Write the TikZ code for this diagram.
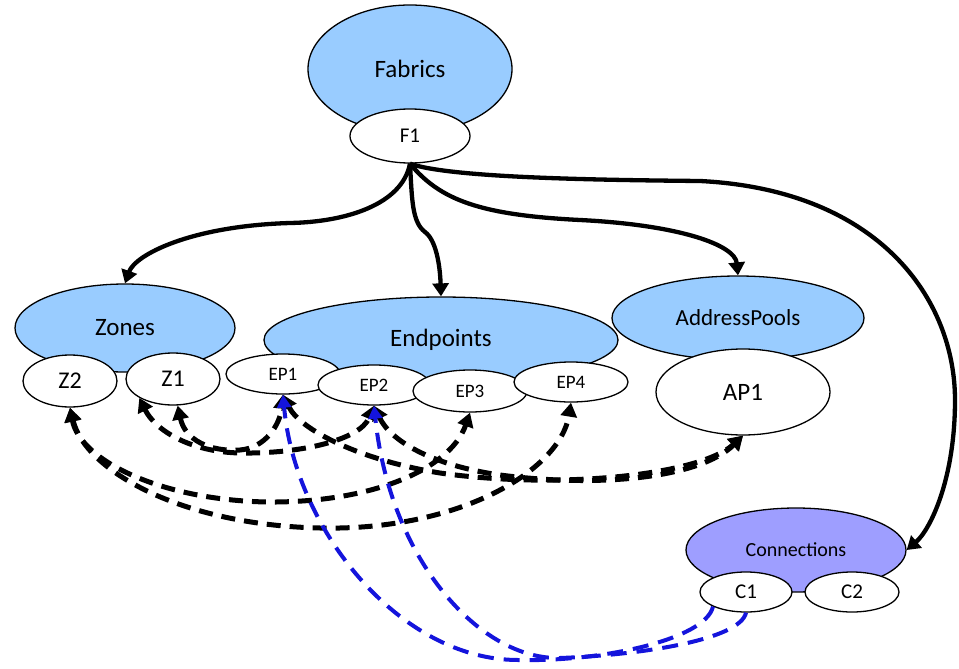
\documentclass[tikz,border=0pt]{standalone}
\usepackage{fontspec}
\setmainfont{Carlito}
\usetikzlibrary{shapes.geometric,arrows.meta}
\definecolor{pblue}{RGB}{153,204,255}
\definecolor{cpurple}{RGB}{158,158,255}
\definecolor{lblue}{RGB}{20,20,220}
\newcommand\myfs[1]{\fontsize{#1}{#1}\selectfont}
\begin{document}
\begin{tikzpicture}[x=1pt,y=-1pt,
  parent/.style={ellipse, draw=black, line width=1.3pt, fill=pblue, inner sep=0pt},
  child/.style={ellipse, draw=black, line width=1.3pt, fill=white, inner sep=0pt},
  solidarrow/.style={line width=4.3pt, arrows={-Triangle[length=13pt,width=16pt]}},
  dasharrow/.style={line width=5pt, dash pattern=on 14pt off 9pt,
     arrows={Triangle[length=14pt,width=16pt]-Triangle[length=14pt,width=16pt]}},
  bluearrow/.style={draw=lblue, line width=4pt, dash pattern=on 16pt off 10pt,
     arrows={-Triangle[length=13pt,width=14pt]}}]
\useasboundingbox (0,0) rectangle (959,669);
% parents and children
\node[parent, minimum width=204pt, minimum height=128pt, font=\myfs{25}] (Fabrics) at (410,69) {Fabrics};
\node[child, minimum width=120pt, minimum height=54pt, font=\myfs{21}] (F1) at (410,136) {F1};
\node[parent, minimum width=220pt, minimum height=88pt, font=\myfs{25}] (Zones) at (125,328) {Zones};
\node[child, minimum width=94pt, minimum height=52pt, font=\myfs{24}] (Z2) at (70,381) {Z2};
\node[child, minimum width=94pt, minimum height=52pt, font=\myfs{24}] (Z1) at (173,379) {Z1};
\node[parent, minimum width=354pt, minimum height=86pt, font=\myfs{25}] (Endpoints) at (441,340) {Endpoints};
\node[child, minimum width=114pt, minimum height=40pt, font=\myfs{19}] (EP1) at (283,374) {EP1};
\node[child, minimum width=112pt, minimum height=40pt, font=\myfs{19}] (EP2) at (374,385) {EP2};
\node[child, minimum width=114pt, minimum height=42pt, font=\myfs{19}] (EP3) at (470,391) {EP3};
\node[child, minimum width=114pt, minimum height=40pt, font=\myfs{19}] (EP4) at (571,382) {EP4};
\node[parent, minimum width=252pt, minimum height=84pt, font=\myfs{23}] (AddressPools) at (738,318) {AddressPools};
\node[child, minimum width=174pt, minimum height=86pt, font=\myfs{25}] (AP1) at (743,392) {AP1};
\node[parent, fill=cpurple, minimum width=220pt, minimum height=84pt, font=\myfs{20}] (Connections) at (796,550) {Connections};
\node[child, minimum width=92pt, minimum height=40pt, font=\myfs{21}] (C1) at (746,592) {C1};
\node[child, minimum width=94pt, minimum height=40pt, font=\myfs{21}] (C2) at (852,592) {C2};
% solid connectors from F1
\draw[solidarrow] (F1.south) .. controls (402,205) and (345,222) .. (290,223) .. controls (190,226) and (135,255) .. (Zones.north);
\draw[solidarrow] (F1.south) .. controls (412,200) and (412,222) .. (425,232) .. controls (436,240) and (440,265) .. (Endpoints.north);
\draw[solidarrow] (F1.south) .. controls (440,200) and (480,215) .. (580,220) .. controls (680,225) and (735,245) .. (AddressPools.north);
\draw[solidarrow] (F1.south) .. controls (450,178) and (600,180) .. (700,181) .. controls (880,190) and (955,300) .. (955,400) .. controls (955,480) and (930,530) .. (Connections.east);
% black dashed
\draw[dasharrow] (Z1.south west) .. controls (155,430) and (190,452) .. (240,453) .. controls (300,454) and (360,440) .. (EP2.south);
\draw[dasharrow] (Z1.-80) .. controls (185,440) and (210,452) .. (240,450) .. controls (265,448) and (280,425) .. (EP1.south);
\draw[dasharrow] (EP1.south) .. controls (300,430) and (360,460) .. (440,473) .. controls (560,490) and (700,475) .. (AP1.south);
\draw[dasharrow] (EP2.south) .. controls (390,440) and (430,465) .. (500,475) .. controls (600,488) and (700,478) .. (AP1.south);
\draw[dasharrow] (Z2.south) .. controls (80,460) and (160,500) .. (267,502) .. controls (370,503) and (450,470) .. (EP3.south);
\draw[dasharrow] (Z2.south) .. controls (85,470) and (180,525) .. (320,528) .. controls (460,531) and (560,470) .. (EP4.south);
% blue dashed
\draw[bluearrow] (C1.south west) .. controls (705,640) and (600,662) .. (518,660) .. controls (400,660) and (295,530) .. (EP1.south);
\draw[bluearrow] (C1.south) .. controls (740,640) and (640,655) .. (560,658) .. controls (480,660) and (390,560) .. (EP2.south);
\end{tikzpicture}
\end{document}
